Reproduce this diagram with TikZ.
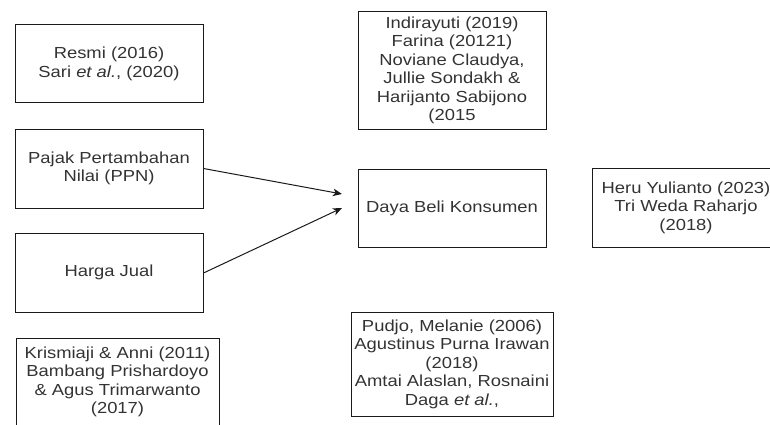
\documentclass[tikz,border=0pt]{standalone}
\usepackage{fontspec}
\setmainfont{Liberation Sans}[FakeStretch=1.15]
\usetikzlibrary{arrows.meta}
\definecolor{txt}{HTML}{333333}
\definecolor{bord}{HTML}{1A1A1A}
\tikzset{
  box/.style={draw=bord, line width=1pt, align=center, inner sep=0pt, text=txt,
    font=\fontsize{16}{18.5}\selectfont},
  link/.style={draw=bord, line width=1pt, -{Stealth[length=9pt,width=7.5pt,inset=2.5pt]}}
}
\begin{document}
\begin{tikzpicture}[x=1pt,y=-1pt]
\useasboundingbox (0,0) rectangle (770,425);
\node[box, minimum width=188pt, minimum height=78pt] (resmi) at (109,64) {Resmi (2016)\\Sari \textit{et al.}, (2020)};
\node[box, minimum width=188pt, minimum height=79pt] (ppn) at (109,168.5) {Pajak Pertambahan\\Nilai (PPN)};
\node[box, minimum width=188pt, minimum height=79pt] (harga) at (109,272.5) {Harga Jual};
\node[box, minimum width=203pt, minimum height=88pt] (kris) at (117.5,382) {Krismiaji \& Anni (2011)\\Bambang Prishardoyo\\\& Agus Trimarwanto\\(2017)};
\node[box, minimum width=188pt, minimum height=117pt] (indira) at (452,70.5) {Indirayuti (2019)\\Farina (20121)\\Noviane Claudya,\\Jullie Sondakh \&\\Harijanto Sabijono\\(2015};
\node[box, minimum width=188pt, minimum height=78pt] (daya) at (452,208) {Daya Beli Konsumen};
\node[box, minimum width=188pt, minimum height=79pt] (heru) at (686,207.5) {Heru Yulianto (2023)\\Tri Weda Raharjo\\(2018)};
\node[box, minimum width=202pt, minimum height=104pt] (pudjo) at (452,364) {Pudjo, Melanie (2006)\\Agustinus Purna Irawan\\(2018)\\Amtai Alaslan, Rosnaini\\Daga \textit{et al.},};
\coordinate (t1) at (342,194);
\coordinate (t2) at (342,208);
\draw[link] (ppn.east) -- (t1);
\draw[link] ([yshift=-0.5pt]harga.east) -- (t2);
\end{tikzpicture}
\end{document}
